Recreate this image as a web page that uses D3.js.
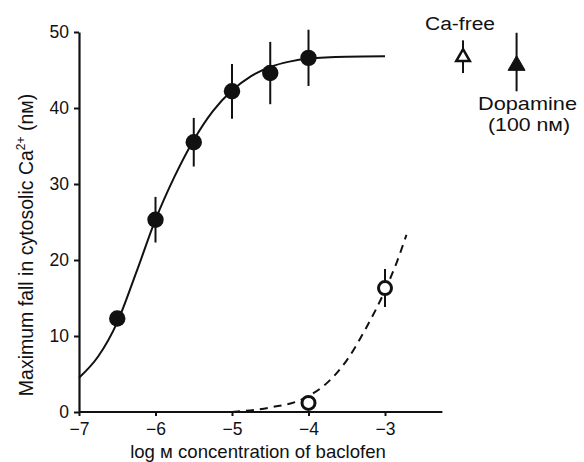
<!DOCTYPE html>
<html><head><meta charset="utf-8">
<script src="https://cdn.jsdelivr.net/npm/d3@7"></script>
<style>body{margin:0;background:#fff}svg{display:block}text{font-family:"Liberation Sans",Arial,sans-serif;fill:#111}</style>
</head><body>
<script>
// Data
const xTicks = [-7, -6, -5, -4, -3];
const yTicks = [0, 10, 20, 30, 40, 50];
const baclofenX = [-6.5, -6, -5.5, -5, -4.5, -4];
const baclofenY = [12.3, 25.3, 35.5, 42.2, 44.6, 46.6];
const baclofenErr = [1.0, 3.0, 3.2, 3.6, 4.1, 3.7];
const openX = [-4, -3];
const openY = [1.2, 16.3];
const openErr = [0.3, 2.5];
const fitX = [-7, -6.75, -6.5, -6.25, -6, -5.75, -5.5, -5.25, -5, -4.75, -4.5, -4.25, -4, -3.5, -3];
const fitY = [4.5, 7.3, 11.8, 18.4, 25.3, 31.0, 35.8, 39.6, 42.3, 44.2, 45.4, 46.1, 46.5, 46.75, 46.8];
const dashX = [-5, -4.5, -4.1, -4, -3.75, -3.5, -3.25, -3, -2.85, -2.72];
const dashY = [0, 0.6, 1.6, 2.1, 3.9, 6.8, 11.0, 16.0, 19.6, 23.3];
const extraLabels = ["Ca-free", "Dopamine", "(100 n\u043c)"];
const extraX = [-1.98, -1.28];
const extraY = [46.7, 45.6];
const extraErrLo = [44.6, 42.2];
const extraErrHi = [48.9, 49.9];

const W = 584, H = 462;
const svg = d3.select("body").append("svg").attr("width", W).attr("height", H);
const x = d3.scaleLinear().domain([-7, -3]).range([79, 385]);
const y = d3.scaleLinear().domain([0, 50]).range([412, 32]);

// axes
const xAxis = svg.append("g").attr("transform", `translate(0,${y(0)})`)
  .call(d3.axisBottom(x).tickValues(xTicks).tickSize(4).tickSizeOuter(0).tickFormat(d => "\u2212" + Math.abs(d)));
xAxis.select(".domain").attr("d", `M${x(-7)},0H${x(-2.25)}`);
const yAxis = svg.append("g").attr("transform", `translate(${x(-7)},0)`)
  .call(d3.axisLeft(y).tickValues(yTicks).tickSize(5).tickSizeOuter(0));
[xAxis, yAxis].forEach(g => {
  g.selectAll(".domain").attr("stroke", "#111").attr("stroke-width", 2.2);
  g.selectAll(".tick line").attr("stroke", "#111").attr("stroke-width", 2);
  g.selectAll(".tick text").attr("font-size", 17.5).attr("fill", "#111")
    .attr("font-family", '"Liberation Sans",Arial,sans-serif');
});
xAxis.selectAll(".tick text").attr("dy", "0.9em");
yAxis.selectAll(".tick text").attr("x", -10);

// axis titles
svg.append("text").attr("x", 258).attr("y", 458).attr("text-anchor", "middle")
  .attr("font-size", 18.6).text("log \u043c concentration of baclofen");
const yt = svg.append("text").attr("transform", "translate(33,245) rotate(-90)")
  .attr("text-anchor", "middle").attr("font-size", 19.5);
yt.append("tspan").text("Maximum fall in cytosolic Ca");
yt.append("tspan").attr("dy", -8).attr("font-size", 12).text("2+");
yt.append("tspan").attr("dy", 8).text("  (n\u043c)");

// curves
const line = d3.line().x(d => x(d[0])).y(d => y(d[1])).curve(d3.curveMonotoneX);
svg.append("path").datum(fitX.map((v, i) => [v, fitY[i]])).attr("d", line)
  .attr("fill", "none").attr("stroke", "#111").attr("stroke-width", 2);
svg.append("path").datum(dashX.map((v, i) => [v, dashY[i]])).attr("d", line)
  .attr("fill", "none").attr("stroke", "#111").attr("stroke-width", 2).attr("stroke-dasharray", "8,6");

// error bars
function errBars(xs, lo, hi) {
  svg.append("g").selectAll("line").data(xs).join("line")
    .attr("x1", d => x(d)).attr("x2", d => x(d))
    .attr("y1", (d, i) => y(lo[i])).attr("y2", (d, i) => y(hi[i]))
    .attr("stroke", "#111").attr("stroke-width", 2);
}
errBars(baclofenX, baclofenY.map((v, i) => v - baclofenErr[i]), baclofenY.map((v, i) => v + baclofenErr[i]));
errBars(openX, openY.map((v, i) => v - openErr[i]), openY.map((v, i) => v + openErr[i]));
errBars(extraX, extraErrLo, extraErrHi);

// points
svg.append("g").selectAll("circle").data(baclofenX).join("circle")
  .attr("cx", d => x(d)).attr("cy", (d, i) => y(baclofenY[i])).attr("r", 8.2).attr("fill", "#111");
svg.append("g").selectAll("circle").data(openX).join("circle")
  .attr("cx", d => x(d)).attr("cy", (d, i) => y(openY[i])).attr("r", 6.5)
  .attr("fill", "#fff").attr("stroke", "#111").attr("stroke-width", 3);

svg.append("g").selectAll("path").data(extraX).join("path")
  .attr("transform", (d, i) => `translate(${x(d)},${y(extraY[i])})`)
  .attr("d", (d, i) => d3.symbol().type(d3.symbolTriangle).size(i === 0 ? 80 : 125)())
  .attr("fill", (d, i) => i === 0 ? "#fff" : "#111").attr("stroke", "#111")
  .attr("stroke-width", (d, i) => i === 0 ? 2.5 : 1).attr("stroke-linejoin", "miter");

// labels
svg.append("text").attr("x", 460).attr("y", 30).attr("text-anchor", "middle")
  .attr("font-size", 18).attr("textLength", 70).attr("lengthAdjust", "spacingAndGlyphs").text(extraLabels[0]);
svg.append("text").attr("x", 527.5).attr("y", 110).attr("text-anchor", "middle")
  .attr("font-size", 18.5).attr("textLength", 99).attr("lengthAdjust", "spacingAndGlyphs").text(extraLabels[1]);
svg.append("text").attr("x", 529).attr("y", 131).attr("text-anchor", "middle")
  .attr("font-size", 18.5).attr("textLength", 82).attr("lengthAdjust", "spacingAndGlyphs").text(extraLabels[2]);
</script>
</body></html>
